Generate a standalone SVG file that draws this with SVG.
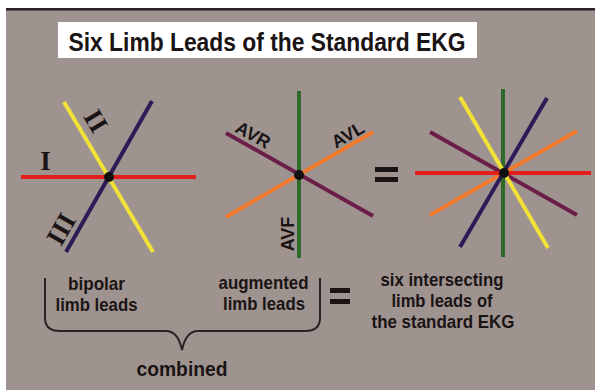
<svg xmlns="http://www.w3.org/2000/svg" width="595" height="390" viewBox="0 0 595 390">
<style>
.ln{stroke-width:4;stroke-linecap:butt;fill:none}
.red{stroke:#e41e1c}.yel{stroke:#f2e238}.blu{stroke:#2b1b56}.grn{stroke:#2f6a2c}.pur{stroke:#6b1f48}.org{stroke:#f27a2c}
.lbl{font-family:"Liberation Sans",Arial,sans-serif;font-weight:bold;fill:#1a1414;text-anchor:middle}
.rom{font-family:"Liberation Serif","Times New Roman",serif;font-weight:bold;fill:#1a1414;text-anchor:middle;dominant-baseline:central}
.bar{fill:#1a1414}
</style>
<rect x="0" y="0" width="595" height="390" fill="#ffffff"/>
<rect x="6" y="8" width="589" height="382" fill="#9f9390"/>
<rect x="6" y="8" width="589" height="2.5" fill="#2a2224"/>
<g id="title">
<rect x="58" y="22" width="419" height="36" fill="#ffffff"/>
<text class="lbl" x="267" y="51" font-size="25" textLength="397" lengthAdjust="spacingAndGlyphs">Six Limb Leads of the Standard EKG</text>
</g>
<g id="bipolar">
<line class="ln red" x1="21" y1="177" x2="196" y2="177"/>
<line class="ln yel" x1="64" y1="102" x2="153" y2="252"/>
<line class="ln blu" x1="152" y1="101" x2="66" y2="252"/>
<circle cx="109" cy="177" r="5" fill="#111"/>
<text class="rom" x="45.5" y="161" font-size="27">I</text>
<text class="rom" x="96" y="121" font-size="27" transform="rotate(59 96 121)">II</text>
<text class="rom" x="61" y="229" font-size="27" transform="rotate(-60 61 229)">III</text>
</g>
<g id="augmented">
<line class="ln grn" x1="299" y1="91" x2="299" y2="258"/>
<line class="ln pur" x1="226" y1="133" x2="373" y2="216"/>
<line class="ln org" x1="226" y1="217" x2="373" y2="132"/>
<circle cx="299" cy="175" r="5" fill="#111"/>
<text class="lbl" x="253" y="135" font-size="18" dominant-baseline="central" transform="rotate(29.5 253 135)">AVR</text>
<text class="lbl" x="348" y="135" font-size="18" dominant-baseline="central" transform="rotate(-30 348 135)">AVL</text>
<text class="lbl" x="288" y="234" font-size="18" dominant-baseline="central" transform="rotate(-90 288 234)">AVF</text>
</g>
<g id="eq1">
<rect class="bar" x="375" y="167" width="23" height="5"/>
<rect class="bar" x="375" y="177" width="23" height="5"/>
</g>
<g id="combined-leads">
<line class="ln grn" x1="503" y1="89" x2="503" y2="257"/>
<line class="ln pur" x1="430" y1="132" x2="577" y2="215"/>
<line class="ln org" x1="430" y1="215" x2="577" y2="131"/>
<line class="ln red" x1="415" y1="173" x2="591" y2="173"/>
<line class="ln yel" x1="460" y1="97" x2="548" y2="248"/>
<line class="ln blu" x1="547" y1="98" x2="460" y2="247"/>
<circle cx="504" cy="173" r="5" fill="#111"/>
</g>
<g id="captions">
<text class="lbl" x="96.5" y="290" font-size="18.5" textLength="57" lengthAdjust="spacingAndGlyphs">bipolar</text>
<text class="lbl" x="96.5" y="311" font-size="18.5" textLength="82" lengthAdjust="spacingAndGlyphs">limb leads</text>
<text class="lbl" x="263.5" y="289" font-size="18.5" textLength="90" lengthAdjust="spacingAndGlyphs">augmented</text>
<text class="lbl" x="264" y="310" font-size="18.5" textLength="82" lengthAdjust="spacingAndGlyphs">limb leads</text>
<text class="lbl" x="442" y="286" font-size="18.5" textLength="123" lengthAdjust="spacingAndGlyphs">six intersecting</text>
<text class="lbl" x="442" y="307" font-size="18.5" textLength="101" lengthAdjust="spacingAndGlyphs">limb leads of</text>
<text class="lbl" x="443" y="328" font-size="18.5" textLength="143" lengthAdjust="spacingAndGlyphs">the standard EKG</text>
<text class="lbl" x="182" y="376" font-size="20.5" textLength="91" lengthAdjust="spacingAndGlyphs">combined</text>
</g>
<g id="connectors">
<path d="M45 278 V318 Q45 331 60 331 H166 Q178 331 182 350 Q186 331 198 331 H305 Q320 331 320 318 V278" fill="none" stroke="#2a2224" stroke-width="2"/>
</g>
<g id="eq2">
<rect class="bar" x="330" y="288" width="20" height="5"/>
<rect class="bar" x="330" y="299" width="20" height="5"/>
</g>
</svg>
